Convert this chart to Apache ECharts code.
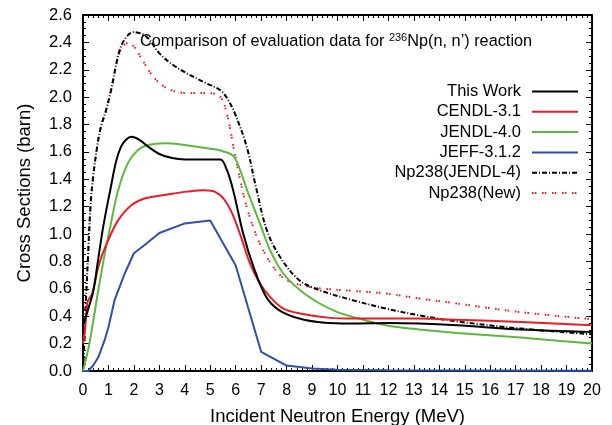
<!DOCTYPE html>
<html><head><meta charset="utf-8">
<script src="https://cdn.jsdelivr.net/npm/echarts@6/dist/echarts.min.js"></script>
<style>html,body{margin:0;padding:0;background:#fff}#c{width:612px;height:425px}</style>
</head><body><div id="c"></div>
<script>
// ---- data ----
const thisWorkE = [0,0.2,0.4,0.6,0.8,1.07,1.3,1.5,1.7,1.9,2.2,2.55,3.0,3.5,4.0,4.5,5.0,5.4,5.65,5.9,6.3,6.7,7.2,7.7,8.5,9.5,10.5,12,13.2,14.7,17.2,20];
const thisWorkV = [0.33,0.45,0.58,0.82,1.06,1.32,1.53,1.64,1.69,1.71,1.69,1.64,1.585,1.555,1.545,1.545,1.545,1.545,1.47,1.32,1.0,0.76,0.54,0.445,0.383,0.352,0.347,0.351,0.347,0.334,0.303,0.285];

const cendlE = [0,0.08,0.17,0.25,0.35,0.45,0.6,0.8,1.0,1.38,1.9,2.42,3.0,3.5,4.1,4.7,5.1,5.38,5.6,5.84,6.17,6.56,6.95,7.35,7.87,8.53,9.7,10.6,12,13.2,14.7,17.2,20];
const cendlV = [0.2,0.3,0.5,0.53,0.56,0.63,0.76,0.87,0.96,1.1,1.21,1.26,1.28,1.295,1.31,1.32,1.315,1.285,1.24,1.16,1.0,0.786,0.64,0.541,0.456,0.42,0.388,0.383,0.383,0.383,0.374,0.358,0.334];

const jendlE = [0,0.25,0.6,0.85,1.1,1.38,1.77,2.16,2.55,3.2,4.0,4.85,5.4,5.9,6.17,6.45,6.95,7.35,7.87,8.53,9.3,10.0,10.6,11.9,13.2,14.7,17.2,20];
const jendlV = [0,0.2,0.59,0.85,1.08,1.32,1.52,1.614,1.65,1.663,1.651,1.627,1.61,1.571,1.468,1.32,1.078,0.883,0.712,0.59,0.493,0.43,0.395,0.334,0.303,0.278,0.244,0.2];

const jeffE = [0,0.2,0.4,0.6,0.85,1.0,1.24,1.45,1.64,2.0,2.42,3.0,4.0,5.0,6.0,7.0,8.0,9.0,10,12,15,20];
const jeffV = [0,0,0.04,0.1,0.225,0.32,0.517,0.62,0.712,0.86,0.92,1.008,1.078,1.1,0.77,0.14,0.04,0.018,0.01,0.005,0.003,0.002];

const np238JendlE = [0,0.05,0.1,0.2,0.3,0.4,0.55,0.7,0.9,1.1,1.45,1.75,2.0,2.5,3.0,3.5,4.07,4.86,5.4,5.7,5.97,6.43,6.8,7.22,7.74,8.5,9.3,10.6,11.9,13.2,14.7,17.2,20];
const np238JendlV = [0,0.2,0.45,0.85,1.22,1.42,1.63,1.78,1.9,2.05,2.35,2.45,2.475,2.44,2.32,2.24,2.175,2.10,2.05,1.98,1.88,1.64,1.34,1.03,0.834,0.663,0.59,0.517,0.456,0.407,0.362,0.31,0.268];

const np238NewE = [0,0.05,0.1,0.2,0.3,0.4,0.55,0.7,0.9,1.1,1.45,1.76,2.0,2.24,2.76,3.29,4.07,4.86,5.38,5.65,5.91,6.17,6.43,6.69,6.95,7.48,8.0,8.92,9.5,10.6,11.9,13.2,14.7,17.2,20];
const np238NewV = [0,0.2,0.45,0.85,1.22,1.42,1.63,1.78,1.9,2.05,2.33,2.395,2.37,2.30,2.15,2.066,2.03,2.03,2.005,1.88,1.64,1.4,1.2,1.05,0.93,0.76,0.663,0.614,0.60,0.585,0.566,0.53,0.493,0.43,0.378];

const seriesNames = ['This Work','CENDL-3.1','JENDL-4.0','JEFF-3.1.2','Np238(JENDL-4)','Np238(New)'];
const xTicks = {min:0, max:20, interval:1};
const yTicks = {min:0, max:2.6, interval:0.2};
const titleText = 'Comparison of evaluation data for {sup|236}Np(n, n’) reaction';
const xName = 'Incident Neutron Energy (MeV)';
const yName = 'Cross Sections (barn)';

function pairs(e, v){ return e.map((x,i)=>[x, v[i]]); }

const FONT = 'Liberation Sans, Arial, Helvetica, sans-serif';
const chart = echarts.init(document.getElementById('c'), null, {renderer:'canvas'});

const axisLine = {show:true, onZero:false, lineStyle:{color:'#000', width:2}};
const axisTick = {show:true, inside:true, length:6, lineStyle:{color:'#000', width:1}};

const styles = [
  {color:'#000000', type:'solid', width:2, smooth:0.35},
  {color:'#ec1c24', type:'solid', width:2, smooth:0.35},
  {color:'#5cb83c', type:'solid', width:2, smooth:0.35},
  {color:'#2f4fa8', type:'solid', width:2, smooth:false},
  {color:'#000000', type:[5,2,1,2], width:2, smooth:0.35},
  {color:'#ec1c24', type:[1.6,1.2,1.6,5.6], width:2, smooth:0.35}
];
const datasets = [
  pairs(thisWorkE, thisWorkV), pairs(cendlE, cendlV), pairs(jendlE, jendlV),
  pairs(jeffE, jeffV), pairs(np238JendlE, np238JendlV), pairs(np238NewE, np238NewV)
];

function xAx(pos, withLabels){
  return {type:'value', position:pos, min:xTicks.min, max:xTicks.max, interval:xTicks.interval,
    name: withLabels ? xName : '', nameLocation:'middle', nameGap:36,
    nameTextStyle:{fontFamily:FONT, fontSize:18.5, color:'#000'},
    axisLabel: withLabels ? {fontFamily:FONT, fontSize:16, color:'#000', margin:12} : {show:false},
    axisLine:axisLine, axisTick:axisTick, splitLine:{show:false},
    minorTick:{show:true, splitNumber:5, length:3, lineStyle:{color:'#000', width:1}}};
}
function yAx(pos, withLabels){
  return {type:'value', position:pos, min:yTicks.min, max:yTicks.max, interval:yTicks.interval,
    name: withLabels ? yName : '', nameLocation:'middle', nameGap:49, nameRotate:90,
    nameTextStyle:{fontFamily:FONT, fontSize:18.5, color:'#000'},
    axisLabel: withLabels ? {fontFamily:FONT, fontSize:16.5, color:'#000', margin:11, formatter:v=>v.toFixed(1)} : {show:false},
    axisLine:axisLine, axisTick:axisTick, splitLine:{show:false},
    minorTick:{show:true, splitNumber:4, length:3, lineStyle:{color:'#000', width:1}}};
}

chart.setOption({
  animation:false,
  backgroundColor:'#fff',
  textStyle:{fontFamily:FONT},
  title:{
    text: titleText,
    left:135, top:27,
    textStyle:{fontFamily:FONT, fontSize:16.3, fontWeight:'normal', color:'#000',
      rich:{ sup:{fontFamily:FONT, fontSize:11, color:'#000', verticalAlign:'bottom', padding:[0,0,8,0]} }
    }
  },
  legend:{
    orient:'vertical', align:'right', right:28, top:78,
    itemWidth:46, itemHeight:14, itemGap:3.3,
    itemStyle:{opacity:0},
    textStyle:{fontFamily:FONT, fontSize:16.5, color:'#000', lineHeight:14, padding:[0,6,0,0]},
    data: seriesNames
  },
  grid:{left:83, right:20, top:15, bottom:54, containLabel:false, outerBoundsMode:'none'},
  xAxis:[ xAx('bottom', true), xAx('top', false) ],
  yAxis:[ yAx('left', true), yAx('right', false) ],
  series: seriesNames.map((n,i)=>({
    name:n, type:'line', xAxisIndex:0, yAxisIndex:0,
    data: datasets[i], symbol:'none', showSymbol:false,
    smooth: styles[i].smooth,
    clip:true,
    lineStyle:{color:styles[i].color, width:styles[i].width, type:styles[i].type, cap:'butt'},
    itemStyle:{color:styles[i].color},
    z: 10-i
  }))
});
</script></body></html>
